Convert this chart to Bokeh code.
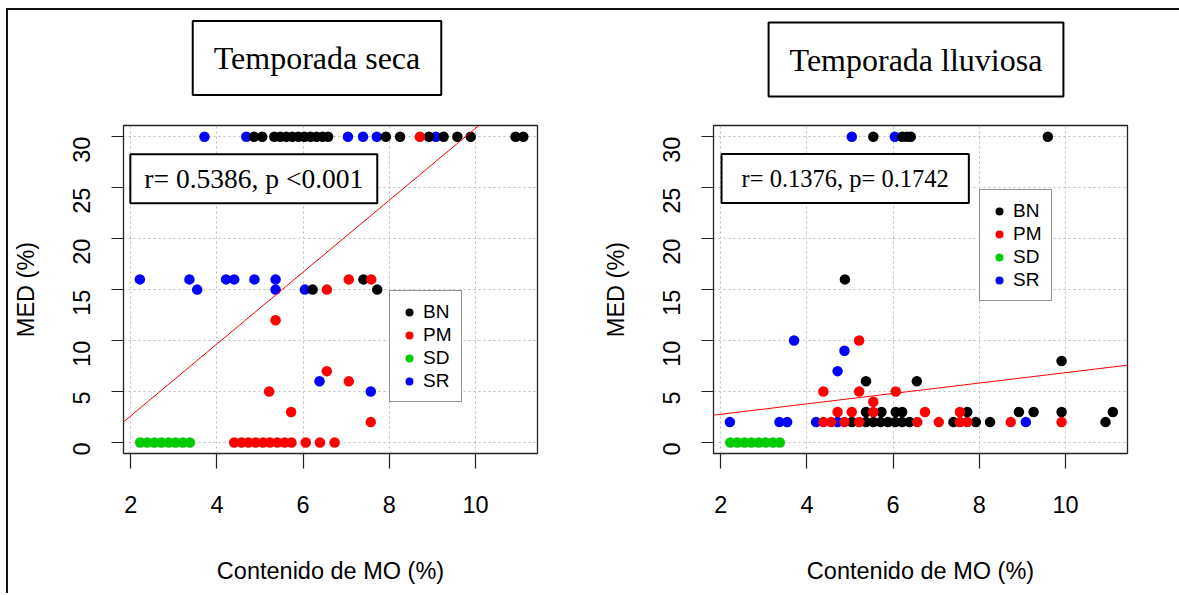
import math
from bokeh.plotting import figure
from bokeh.models import FixedTicker, Legend, LegendItem, Label, Range1d, Slope
from bokeh.layouts import row
from bokeh.embed import file_html
from bokeh.resources import INLINE

# ---- data: MED (%) versus organic matter content (%) ----
groups = ["BN", "PM", "SD", "SR"]
colors = {"BN": "#000000", "PM": "#FF0000", "SD": "#00CD00", "SR": "#0000FF"}
x_ticks = [2, 4, 6, 8, 10]
y_ticks = [0, 5, 10, 15, 20, 25, 30]

# dry season
seca_bn_x = [4.86, 5.05, 5.33, 5.47, 5.61, 5.75, 5.89, 6.03, 6.17, 6.31, 6.45, 6.58,
             7.92, 8.25, 8.92, 9.26, 9.58, 9.89, 10.93, 11.11, 7.40, 6.22, 7.72]
seca_bn_y = [30, 30, 30, 30, 30, 30, 30, 30, 30, 30, 30, 30,
             30, 30, 30, 30, 30, 30, 30, 30, 16, 15, 15]
seca_pm_x = [8.71, 7.06, 7.58, 6.55, 5.36, 6.55, 7.06, 5.21, 5.72, 7.57,
             4.40, 4.57, 4.73, 4.90, 5.07, 5.23, 5.40, 5.57, 5.73, 6.06, 6.39, 6.73]
seca_pm_y = [30, 16, 16, 15, 12, 7, 6, 5, 3, 2,
             0, 0, 0, 0, 0, 0, 0, 0, 0, 0, 0, 0]
seca_sd_x = [2.22, 2.38, 2.55, 2.71, 2.88, 3.04, 3.21, 3.37]
seca_sd_y = [0, 0, 0, 0, 0, 0, 0, 0]
seca_sr_x = [3.71, 4.68, 7.04, 7.39, 7.71, 9.08, 2.21, 3.36, 4.21, 4.40, 4.87, 5.36,
             3.54, 5.36, 6.04, 6.38, 7.57]
seca_sr_y = [30, 30, 30, 30, 30, 30, 16, 16, 16, 16, 16, 16,
             15, 15, 15, 6, 5]
seca_intercept = -4.43
seca_slope = 3.525
seca_stat = "r= 0.5386, p <0.001"

# rainy season
lluv_bn_x = [5.54, 6.21, 6.32, 6.41, 9.59, 4.88, 9.91, 5.37, 6.55,
             5.37, 5.73, 6.06, 6.21, 7.72, 8.92, 9.26, 9.91, 11.10,
             5.04, 5.37, 5.54, 5.71, 5.88, 6.05, 6.21, 6.38, 7.40, 7.92, 8.25, 10.93]
lluv_bn_y = [30, 30, 30, 30, 30, 16, 8, 6, 6,
             3, 3, 3, 3, 3, 3, 3, 3, 3,
             2, 2, 2, 2, 2, 2, 2, 2, 2, 2, 2, 2]
lluv_pm_x = [5.21, 4.38, 5.21, 6.06, 5.54, 4.71, 5.04, 5.54, 6.74, 7.55,
             4.38, 4.56, 4.87, 5.21, 6.56, 7.06, 7.55, 7.72, 8.73, 9.91]
lluv_pm_y = [10, 5, 5, 5, 4, 3, 3, 3, 3, 3,
             2, 2, 2, 2, 2, 2, 2, 2, 2, 2]
lluv_sd_x = [2.22, 2.38, 2.55, 2.71, 2.88, 3.04, 3.21, 3.37]
lluv_sd_y = [0, 0, 0, 0, 0, 0, 0, 0]
lluv_sr_x = [5.04, 6.04, 3.70, 4.87, 4.71, 2.21, 3.36, 3.54, 4.21, 4.71, 9.08]
lluv_sr_y = [30, 30, 10, 9, 7, 2, 2, 2, 2, 2, 2]
lluv_intercept = 1.75
lluv_slope = 0.51
lluv_stat = "r= 0.1376, p= 0.1742"

SANS = "Liberation Sans"
SERIF = "Liberation Serif"
FRAME_W, FRAME_H = 414, 328
FIG_H = 583


def panel(series, title, stat, intercept, slope, width, border_left,
          legend_loc, title_xy, stat_xy, stat_pad, stat_size):
    p = figure(width=width, height=FIG_H,
               x_range=Range1d(1.83, 11.44), y_range=Range1d(-1.08, 31.1),
               output_backend="svg", toolbar_location=None,
               min_border_left=border_left,
               min_border_right=width - border_left - FRAME_W,
               min_border_top=115,
               min_border_bottom=FIG_H - 115 - FRAME_H,
               background_fill_color="white", border_fill_color="white",
               outline_line_color="#222222", outline_line_width=1.3)

    # grid
    for g in (p.xgrid, p.ygrid):
        g.grid_line_color = "#bdbdbd"
        g.grid_line_dash = "2 3"
        g.grid_line_width = 1

    # axes
    p.xaxis.ticker = FixedTicker(ticks=x_ticks)
    p.yaxis.ticker = FixedTicker(ticks=y_ticks)
    p.xaxis.axis_label = "Contenido de MO (%)"
    p.yaxis.axis_label = "MED (%)"
    for ax in (p.xaxis, p.yaxis):
        ax.axis_line_color = None
        ax.minor_tick_line_color = None
        ax.major_tick_in = 0
        ax.major_tick_line_color = "#222222"
        ax.major_tick_line_width = 1.2
        ax.major_label_text_font = SANS
        ax.major_label_text_font_size = "23.5px"
        ax.major_label_text_color = "black"
        ax.axis_label_text_font = SANS
        ax.axis_label_text_font_size = "23.5px"
        ax.axis_label_text_font_style = "normal"
        ax.axis_label_text_color = "black"
    p.xaxis.major_tick_out = 15
    p.xaxis.major_label_standoff = 27
    p.xaxis.axis_label_standoff = 42
    p.yaxis.major_tick_out = 12
    p.yaxis.major_label_orientation = math.pi / 2
    p.yaxis.major_label_standoff = 30
    p.yaxis.axis_label_standoff = 23

    # points
    renderers = {}
    for g in ["SR", "BN", "PM", "SD"]:
        xs, ys = series[g]
        renderers[g] = p.scatter(xs, ys, size=10.5, fill_color=colors[g],
                                 line_color=None)

    # regression line
    p.add_layout(Slope(gradient=slope, y_intercept=intercept,
                       line_color="#FF0000", line_width=1))

    # legend
    legend = Legend(items=[LegendItem(label=g, renderers=[renderers[g]]) for g in groups],
                    location=legend_loc, margin=0, padding=9, spacing=0,
                    glyph_width=20, glyph_height=20, label_height=23,
                    label_standoff=4, label_text_font=SANS,
                    label_text_font_size="19px", label_text_color="black",
                    border_line_color="#222222", border_line_width=1.3,
                    background_fill_color="white", background_fill_alpha=1)
    p.add_layout(legend)

    # boxed panel title above the frame
    p.add_layout(Label(x=title_xy[0], y=title_xy[1], x_units="canvas", y_units="canvas",
                       text=title, text_font=SERIF, text_font_size="32px",
                       text_color="black",
                       text_align="center", text_baseline="middle",
                       border_line_color="black", border_line_width=2,
                       background_fill_color="white", padding=(21, 19)), "above")

    # statistics box
    p.add_layout(Label(x=stat_xy[0], y=stat_xy[1], x_units="canvas", y_units="canvas",
                       text=stat, text_font=SERIF, text_font_size=stat_size,
                       text_color="black",
                       text_align="center", text_baseline="middle",
                       border_line_color="black", border_line_width=2,
                       background_fill_color="white", padding=stat_pad))
    return p


p1 = panel({"BN": (seca_bn_x, seca_bn_y), "PM": (seca_pm_x, seca_pm_y),
            "SD": (seca_sd_x, seca_sd_y), "SR": (seca_sr_x, seca_sr_y)},
           "Temporada seca", seca_stat, seca_intercept, seca_slope,
           width=586, border_left=115, legend_loc=(266, 51),
           title_xy=(308.5, 47.5), stat_xy=(245.3, 168.2), stat_pad=(14, 9),
           stat_size="27.5px")
p2 = panel({"BN": (lluv_bn_x, lluv_bn_y), "PM": (lluv_pm_x, lluv_pm_y),
            "SD": (lluv_sd_x, lluv_sd_y), "SR": (lluv_sr_x, lluv_sr_y)},
           "Temporada lluviosa", lluv_stat, lluv_intercept, lluv_slope,
           width=585, border_left=119, legend_loc=(266, 152),
           title_xy=(321.5, 49), stat_xy=(250.7, 168), stat_pad=(20, 11),
           stat_size="24.5px")

layout = row(p1, p2, margin=(8, 0, 0, 6),
             styles={"border-top": "2px solid #111", "border-left": "2px solid #111"})

open("out.html", "w").write(file_html(layout, INLINE))
